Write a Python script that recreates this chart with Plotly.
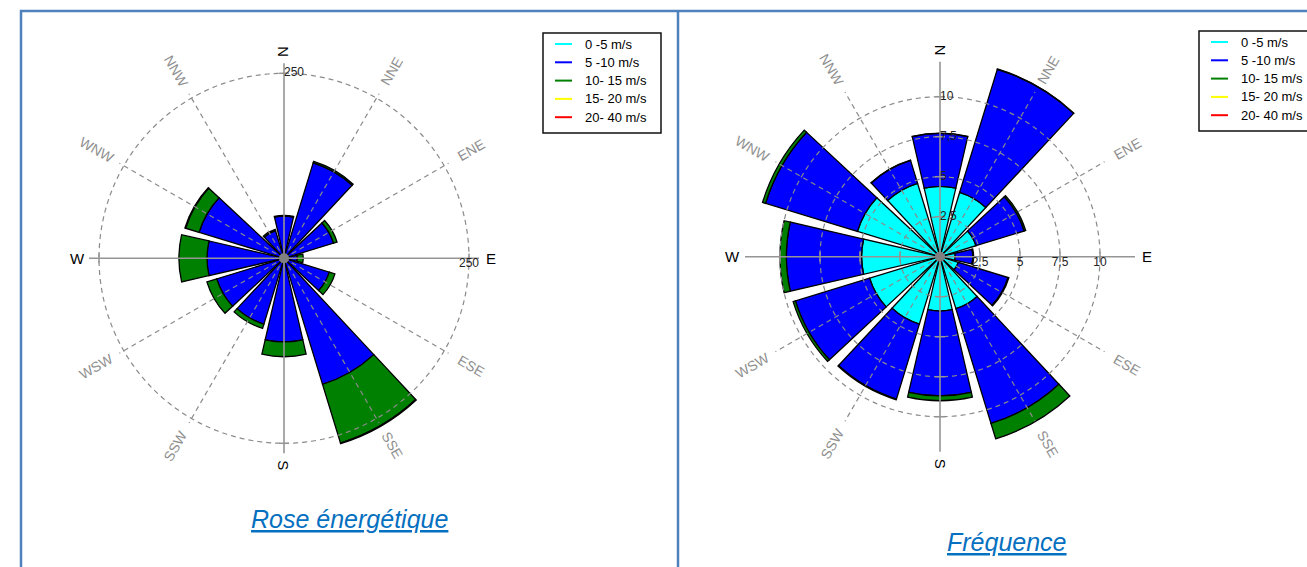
import numpy as np
import plotly.graph_objects as go

W, H = 1307, 567

# ---------------- data ----------------
directions = ["N", "NNE", "ENE", "E", "ESE", "SSE", "S", "SSW", "WSW", "W", "WNW", "NNW"]
dir_angles = [0, 30, 60, 90, 120, 150, 180, 210, 240, 270, 300, 330]

speed_bins = ["0 -5 m/s", "5 -10 m/s", "10- 15 m/s", "15- 20 m/s", "20- 40 m/s"]
bin_colors = ["#00FFFF", "#0000FF", "#008000", "#FFFF00", "#FF0000"]

# Energy rose (stacked segment values per direction)
energy_0_5 = [4, 6, 6, 4, 4, 5, 5, 5, 4, 4, 4, 4]
energy_5_10 = [53, 129, 64, 14, 60, 173, 108, 88, 91, 100, 116, 35]
energy_10_15 = [1, 2, 5, 8, 8, 83, 20, 6, 14, 38, 19, 2]
energy_15_20 = [0, 0, 0, 0, 0, 1, 0, 0, 0, 0, 1, 0]
energy_20_40 = [0, 0, 0, 0, 0, 0, 0, 0, 0, 0, 0, 0]

# Frequency rose (%) (stacked segment values per direction)
freq_0_5 = [4.4, 4.2, 2.35, 0.95, 1.2, 3.4, 3.4, 4.4, 4.6, 4.9, 5.4, 4.8]
freq_5_10 = [3.3, 8.05, 3.15, 1.1, 3.25, 7.5, 5.3, 4.9, 4.85, 4.7, 6.0, 1.5]
freq_10_15 = [0.02, 0.02, 0.1, 0.05, 0.05, 1.0, 0.3, 0.05, 0.15, 0.4, 0.2, 0.02]
freq_15_20 = [0, 0, 0, 0, 0, 0, 0, 0, 0, 0, 0, 0]
freq_20_40 = [0, 0, 0, 0, 0, 0, 0, 0, 0, 0, 0, 0]

energy_rings = [250]
energy_ring_labels = ["250"]
freq_rings = [2.5, 5, 7.5, 10]
freq_ring_labels = ["2,5", "5", "7,5", "10"]

titles = ["Rose énergétique", "Fréquence"]

# ---------------- style / layout constants ----------------
FONT = "Arial, Liberation Sans, sans-serif"
GRID = "#8a8a8a"
AXIS = "#959595"
BAR_WIDTH = 26

fig = go.Figure()


def px2paper(x, y):
    return x / W, 1 - y / H


def add_rose(subplot, segments, rings, ring_labels, ppu, rmax, cx, cy):
    for name, vals, col in zip(speed_bins, segments, bin_colors):
        fig.add_trace(go.Barpolar(
            r=vals, theta=dir_angles, width=BAR_WIDTH, name=name,
            marker=dict(color=col, line=dict(color="black", width=1.3)),
            subplot=subplot, showlegend=False, hoverinfo="skip"))
    circ = np.linspace(0, 360, 361)
    for rv in rings:
        fig.add_trace(go.Scatterpolar(
            r=[rv] * len(circ), theta=circ, mode="lines",
            line=dict(color=GRID, width=1.2, dash="5px,4px"),
            subplot=subplot, showlegend=False, hoverinfo="skip"))
    spoke_r = 190 / ppu
    for a in dir_angles:
        if a % 90:
            fig.add_trace(go.Scatterpolar(
                r=[0, spoke_r], theta=[a, a], mode="lines",
                line=dict(color=GRID, width=1.2, dash="5px,4px"),
                subplot=subplot, showlegend=False, hoverinfo="skip"))
    axis_r = 195 / ppu
    for a in (0, 90):
        fig.add_trace(go.Scatterpolar(
            r=[axis_r, 0, axis_r], theta=[a, a, a + 180], mode="lines",
            line=dict(color=AXIS, width=1.6),
            subplot=subplot, showlegend=False, hoverinfo="skip"))
    # small tick marks where the rings cross the axes
    for a, sym in ((0, "line-ew"), (90, "line-ns"), (180, "line-ew"), (270, "line-ns")):
        fig.add_trace(go.Scatterpolar(
            r=rings, theta=[a] * len(rings), mode="markers",
            marker=dict(symbol=sym, size=7, line=dict(color=AXIS, width=1.5)),
            subplot=subplot, showlegend=False, hoverinfo="skip"))
    fig.add_trace(go.Scatterpolar(
        r=[0], theta=[0], mode="markers",
        marker=dict(color="#808080", size=10),
        subplot=subplot, showlegend=False, hoverinfo="skip"))
    fig.add_trace(go.Scatterpolar(
        r=rings, theta=[0] * len(rings), mode="text", text=ring_labels,
        textposition="middle right", textfont=dict(family=FONT, size=12, color="#222"),
        subplot=subplot, showlegend=False, hoverinfo="skip"))
    fig.add_trace(go.Scatterpolar(
        r=rings, theta=[90] * len(rings), mode="text", text=ring_labels,
        textposition="bottom center", textfont=dict(family=FONT, size=12, color="#222"),
        subplot=subplot, showlegend=False, hoverinfo="skip"))

    rpx = rmax * ppu
    dom = dict(x=[(cx - rpx) / W, (cx + rpx) / W],
               y=[1 - (cy + rpx) / H, 1 - (cy - rpx) / H])
    polar = dict(
        domain=dom, bgcolor="rgba(0,0,0,0)", barmode="stack",
        radialaxis=dict(range=[0, rmax], visible=False, showgrid=False, showline=False,
                        showticklabels=False, ticks=""),
        angularaxis=dict(rotation=90, direction="clockwise", visible=False, showgrid=False,
                         showline=False, showticklabels=False, ticks=""),
    )
    fig.update_layout(**{subplot: polar})

    # compass labels
    for name, a in zip(directions, dir_angles):
        cardinal = a % 90 == 0
        rr = 207 if cardinal else 216
        x = cx + rr * np.sin(np.radians(a))
        y = cy - rr * np.cos(np.radians(a))
        if cardinal:
            ang = 90 if a in (0, 180) else 0
        else:
            ang = a - 90 if a < 180 else a - 270
        px_, py_ = px2paper(x, y)
        fig.add_annotation(
            x=px_, y=py_, xref="paper", yref="paper", text=name, showarrow=False,
            textangle=ang, xanchor="center", yanchor="middle",
            font=dict(family=FONT, size=15 if cardinal else 14,
                      color="black" if cardinal else "#8f8f8f"))


add_rose("polar",
         [energy_0_5, energy_5_10, energy_10_15, energy_15_20, energy_20_40],
         energy_rings, energy_ring_labels, ppu=185 / 250, rmax=280, cx=284, cy=258.3)
add_rose("polar2",
         [freq_0_5, freq_5_10, freq_10_15, freq_15_20, freq_20_40],
         freq_rings, freq_ring_labels, ppu=16, rmax=13, cx=940, cy=256.7)


# ---------------- legends (drawn) ----------------
def add_legend(x0, y0):
    bw, bh = 118, 100
    fig.add_shape(type="rect", xref="paper", yref="paper",
                  x0=x0 / W, x1=(x0 + bw) / W, y0=1 - y0 / H, y1=1 - (y0 + bh) / H,
                  line=dict(color="#111", width=1.5), fillcolor="white", layer="above")
    for i, (lab, col) in enumerate(zip(speed_bins, bin_colors)):
        yy = y0 + 11 + i * 18.3
        fig.add_shape(type="line", xref="paper", yref="paper",
                      x0=(x0 + 12) / W, x1=(x0 + 29) / W, y0=1 - yy / H, y1=1 - yy / H,
                      line=dict(color=col, width=2), layer="above")
        fig.add_annotation(x=(x0 + 40) / W, y=1 - yy / H, xref="paper", yref="paper",
                           text=lab, showarrow=False, xanchor="left", yanchor="middle",
                           font=dict(family=FONT, size=13, color="black"))


add_legend(543, 33)
add_legend(1199, 31)

# ---------------- titles ----------------
for t, (tx, ty) in zip(titles, [(349.5, 518.5), (1006.7, 542.3)]):
    fig.add_annotation(x=tx / W, y=1 - ty / H, xref="paper", yref="paper",
                       text="<u>" + t + "</u>", showarrow=False,
                       xanchor="center", yanchor="middle",
                       font=dict(family=FONT, size=25, color="#0670C0", style="italic"))

# ---------------- panel borders ----------------
BORDER = "#4F81BD"
fig.add_shape(type="line", xref="paper", yref="paper", x0=20 / W, x1=1.01,
              y0=1 - 11 / H, y1=1 - 11 / H, line=dict(color=BORDER, width=2.5))
for bx in (21, 678):
    fig.add_shape(type="line", xref="paper", yref="paper", x0=bx / W, x1=bx / W,
                  y0=1 - 10 / H, y1=-0.01, line=dict(color=BORDER, width=2.5))

fig.update_layout(
    width=W, height=H, margin=dict(l=0, r=0, t=0, b=0),
    paper_bgcolor="white", plot_bgcolor="white", showlegend=False,
    xaxis=dict(visible=False), yaxis=dict(visible=False),
)

fig.write_html("out.html")
